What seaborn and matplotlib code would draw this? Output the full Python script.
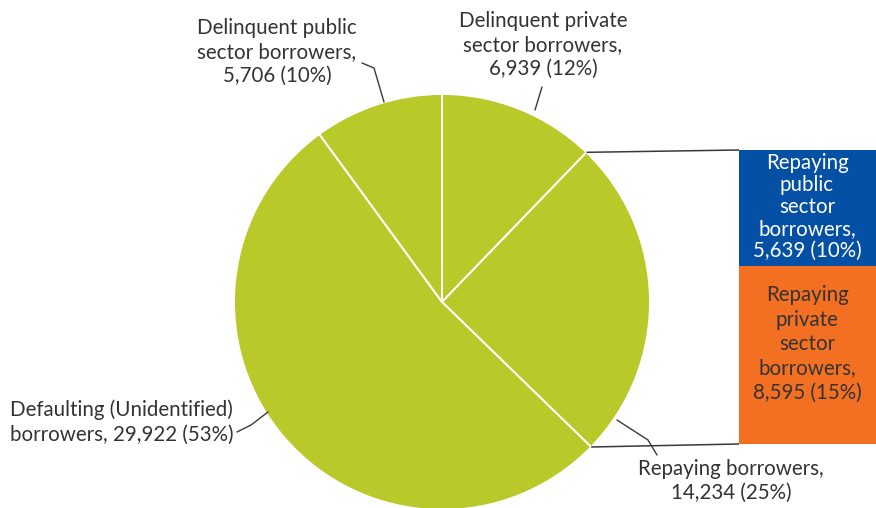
import numpy as np
import matplotlib
matplotlib.use("Agg")
import matplotlib.pyplot as plt
import seaborn as sns

# Borrower status breakdown (pie) and split of repaying borrowers (bar)
pie_labels = [
    "Delinquent private\nsector borrowers,\n6,939 (12%)",
    "Repaying borrowers,\n14,234 (25%)",
    "Defaulting (Unidentified)\nborrowers, 29,922 (53%)",
    "Delinquent public\nsector borrowers,\n5,706 (10%)",
]
pie_values = [6939, 14234, 29922, 5706]

bar_labels = [
    "Repaying\nprivate\nsector\nborrowers,\n8,595 (15%)",
    "Repaying\npublic\nsector\nborrowers,\n5,639 (10%)",
]
bar_values = [8595, 5639]

GREEN = "#BAC92A"
BLUE = "#0450A4"
ORANGE = "#F37022"
TEXT = "#333333"
LINE = "#3a3a3a"

sns.set_theme(style="white")
plt.rcParams["font.family"] = ["Lato", "DejaVu Sans"]

W, H = 876, 508
fig = plt.figure(figsize=(W / 100, H / 100), dpi=100)
ax = fig.add_axes([0, 0, 1, 1])


def py(y):
    return H - y


cx, cy, r = 442, py(302), 208
wedges, _ = ax.pie(
    pie_values,
    colors=[GREEN] * len(pie_values),
    startangle=90,
    counterclock=False,
    center=(cx, cy),
    radius=r,
    wedgeprops=dict(edgecolor="white", linewidth=1.4),
    frame=True,
)
ax.set_xlim(0, W)
ax.set_ylim(0, H)
ax.set_aspect("equal")
ax.axis("off")

# Stacked bar for the repaying-borrowers slice
bar_left, bar_right = 739, 880
bar_top, bar_bot = 150, 444
scale = (bar_bot - bar_top) / sum(bar_values)
bottom = py(bar_bot)
bar_colors = [ORANGE, BLUE]
for val, col in zip(bar_values, bar_colors):
    h = val * scale
    ax.bar((bar_left + bar_right) / 2, h, width=bar_right - bar_left,
           bottom=bottom, color=col, linewidth=0, zorder=3)
    bottom += h

# Connector lines from the repaying slice to the bar
rep = wedges[1]
for ang, yb in [(rep.theta2, bar_top), (rep.theta1, bar_bot)]:
    x0 = cx + r * np.cos(np.radians(ang))
    y0 = cy + r * np.sin(np.radians(ang))
    ax.plot([x0, bar_left], [y0, py(yb)], color=LINE, lw=1.1,
            solid_capstyle="butt", zorder=2)

fs = 14.8
ls = 1.27
# Bar labels
ax.text(807, py(207), bar_labels[1], ha="center", va="center", color="white",
        fontsize=fs, linespacing=1.13, zorder=4)
ax.text(807, py(344), bar_labels[0], ha="center", va="center", color=TEXT,
        fontsize=fs, linespacing=ls, zorder=4)

# Pie labels with leader lines
ax.text(543, py(45), pie_labels[0], ha="center", va="center", color=TEXT,
        fontsize=fs, linespacing=ls)
ax.plot([542, 535], [py(87), py(110)], color=LINE, lw=1.0)

ax.text(277, py(52), pie_labels[3], ha="center", va="center", color=TEXT,
        fontsize=fs, linespacing=ls)
ax.plot([362, 374, 384], [py(63), py(68), py(102)], color=LINE, lw=1.0)

ax.text(233, py(422), pie_labels[2], ha="right", va="center", color=TEXT,
        fontsize=fs, linespacing=ls, multialignment="center")
ax.plot([237, 251, 268], [py(432), py(425), py(412)], color=LINE, lw=1.0)

ax.text(731, py(481), pie_labels[1], ha="center", va="center", color=TEXT,
        fontsize=fs, linespacing=ls)
ax.plot([617, 648, 657], [py(420), py(440), py(455)], color=LINE, lw=1.0)

fig.savefig("out.png", dpi=100, facecolor="white")
